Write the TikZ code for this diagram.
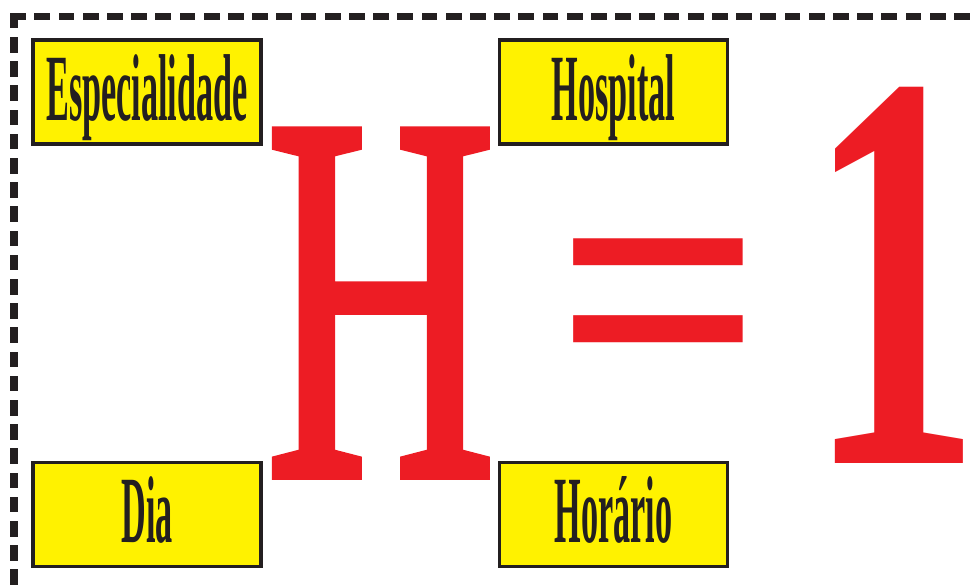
\documentclass[tikz,border=0pt]{standalone}
\usepackage{fontspec}
\setmainfont{Liberation Serif}
\newfontfamily\labelfont{Liberation Serif Bold}[FakeStretch=0.36]
\newfontfamily\signfont{Liberation Serif Bold}
\newfontfamily\letterfont{Liberation Serif}[FakeBold=2]
\definecolor{signred}{HTML}{ED1C24}
\definecolor{tagyellow}{HTML}{FFF200}
\definecolor{inkblack}{HTML}{231F20}
\tikzset{
	tag/.style={draw=inkblack,line width=3.5pt,fill=tagyellow,inner sep=0pt,
		minimum width=228pt,minimum height=104pt,text height=80pt,text depth=24pt,
		text=inkblack,font=\labelfont\fontsize{95}{95}\selectfont},
	frame/.style={draw=inkblack,line width=7.5pt,line cap=rect,dash pattern=on 8.2pt off 16pt},
	glyph/.style={inner sep=0pt,anchor=base west,text=signred}
}

\begin{document}
\begin{tikzpicture}[x=1pt,y=-1pt]
	\useasboundingbox (0,0) rectangle (973,587);
	\coordinate (corner) at (14,16.5);
	\draw[frame] (corner) -- (973,16.5);
	\draw[frame] (corner) -- (14,587);
	\node[tag] (especialidade) at (147,92) {Especialidade};
	\node[tag] (hospital) at (613.5,92) {Hospital};
	\node[tag] (dia) at (147,514.5) {Dia};
	\node[tag] (horario) at (613.5,514.5) {Horário};
	\node[glyph,font=\letterfont\fontsize{524}{524}\selectfont] (h) at (265.7,474.7) {\scalebox{0.608}[1]{H}};
	\node[glyph,font=\signfont\fontsize{385}{385}\selectfont] (eq) at (555.6,418.6) {\scalebox{0.947}[1]{=}};
	\node[glyph,font=\signfont\fontsize{570}{570}\selectfont] (one) at (807.5,463) {\scalebox{0.61}[1]{1}};
\end{tikzpicture}
\end{document}
